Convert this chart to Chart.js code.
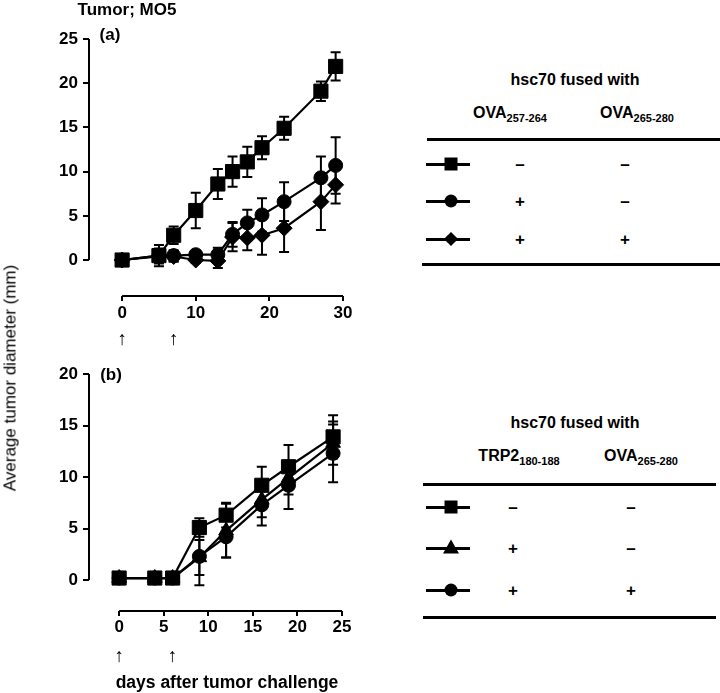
<!DOCTYPE html>
<html>
<head>
<meta charset="utf-8">
<script src="https://cdn.jsdelivr.net/npm/chart.js@4.4.0/dist/chart.umd.min.js"></script>
<style>
  body { margin: 0; background: #fff; }
  #page { position: relative; width: 720px; height: 693px; overflow: hidden; font-family: "Liberation Sans", Arial, sans-serif; color: #000; }
  canvas { position: absolute; left: 0; }
  .t { position: absolute; white-space: nowrap; line-height: 1; }
  .b { font-weight: bold; }
  .c { transform: translate(-50%, -50%); }
  .hr { position: absolute; height: 3px; background: #000; }
  .key { position: absolute; width: 44px; height: 2.5px; background: #000; }
  .mk { position: absolute; background: #000; transform: translate(-50%, -50%); }
  sub { font-size: 11px; vertical-align: -4px; }
</style>
</head>
<body>
<div id="page">
  <canvas id="chartA" width="360" height="360" style="top:0"></canvas>
  <canvas id="chartB" width="360" height="335" style="top:340px"></canvas>
  <div id="labels"></div>
</div>
<script>
// panel (a) data
const daysA = [0, 5, 7, 10, 13, 15, 17, 19, 22, 27, 29];
const squareA = [0, 0.5, 2.8, 5.6, 8.6, 10.0, 11.1, 12.7, 14.9, 19.1, 21.9];
const squareErrA = [0, 1.2, 1.0, 2.0, 1.7, 1.7, 1.7, 1.3, 1.3, 1.1, 1.6];
const circleA = [0, 0.5, 0.5, 0.6, 0.6, 2.9, 4.2, 5.1, 6.6, 9.3, 10.7];
const circleErrA = [0, 0.8, 0.6, 0.3, 0.8, 1.4, 1.5, 1.9, 2.2, 2.4, 3.2];
const diamondA = [0, 0.4, 0.4, 0, -0.1, 2.6, 2.5, 2.8, 3.6, 6.6, 8.5];
const diamondErrA = [0, 0.8, 0.6, 0.3, 0.8, 1.6, 1.4, 2.2, 2.7, 3.2, 2.1];
const xTicksA = [0, 10, 20, 30];
const yTicksA = [0, 5, 10, 15, 20, 25];
const arrowDaysA = [0, 7];

// panel (b) data
const daysB = [0, 4, 6, 9, 12, 16, 19, 24];
const squareB = [0.2, 0.2, 0.2, 5.1, 6.3, 9.2, 11.0, 13.9];
const squareErrB = [0, 0, 0, 0.9, 1.2, 1.8, 2.1, 2.1];
const triangleB = [0.2, 0.2, 0.2, 2.2, 4.8, 7.8, 9.9, 13.3];
const triangleErrB = [0, 0, 0, 1.7, 2.6, 1.7, 1.6, 2.1];
const circleB = [0.2, 0.2, 0.2, 2.3, 4.2, 7.3, 9.2, 12.3];
const circleErrB = [0, 0, 0, 2.8, 2.0, 2.0, 2.3, 2.8];
const xTicksB = [0, 5, 10, 15, 20, 25];
const yTicksB = [0, 5, 10, 15, 20];
const arrowDaysB = [0, 6];

const FONT = '"Liberation Sans", Arial, sans-serif';

// error bars go under the markers
const errorBars = {
  id: 'errorBars',
  beforeDatasetsDraw(chart) {
    const ctx = chart.ctx, xs = chart.scales.x, ys = chart.scales.y;
    ctx.save();
    ctx.strokeStyle = '#000';
    ctx.lineWidth = 2;
    chart.data.datasets.forEach(ds => {
      ds.data.forEach((p, i) => {
        const e = ds.errors[i];
        if (!e) return;
        const x = xs.getPixelForValue(p.x);
        const y1 = ys.getPixelForValue(p.y + e);
        const y2 = ys.getPixelForValue(p.y - e);
        ctx.beginPath();
        ctx.moveTo(x, y1); ctx.lineTo(x, y2);
        ctx.moveTo(x - 5, y1); ctx.lineTo(x + 5, y1);
        ctx.moveTo(x - 5, y2); ctx.lineTo(x + 5, y2);
        ctx.stroke();
      });
    });
    ctx.restore();
  }
};

// detached axis lines + the injection arrows
const axisLines = {
  id: 'axisLines',
  afterDraw(chart, args, o) {
    const ctx = chart.ctx, xs = chart.scales.x, ys = chart.scales.y, a = chart.chartArea;
    ctx.save();
    ctx.strokeStyle = '#000';
    ctx.lineWidth = 2;
    ctx.beginPath();
    ctx.moveTo(a.left, ys.getPixelForValue(o.yTicks[0]));
    ctx.lineTo(a.left, ys.getPixelForValue(o.yTicks[o.yTicks.length - 1]));
    ctx.moveTo(xs.getPixelForValue(o.xTicks[0]), a.bottom);
    ctx.lineTo(xs.getPixelForValue(o.xTicks[o.xTicks.length - 1]), a.bottom);
    ctx.stroke();
    ctx.fillStyle = '#000';
    ctx.font = '19px ' + FONT;
    ctx.textAlign = 'center';
    ctx.textBaseline = 'middle';
    o.arrows.forEach(d => ctx.fillText('\u2191', xs.getPixelForValue(d), a.bottom + o.arrowOffset));
    ctx.restore();
  }
};

function series(days, vals, errs, style, radius) {
  return {
    data: days.map((d, i) => ({ x: d, y: vals[i] })),
    errors: errs,
    borderColor: '#000',
    borderWidth: 2.2,
    pointStyle: style,
    pointRadius: radius,
    pointBackgroundColor: '#000',
    pointBorderColor: '#000',
    pointBorderWidth: 1,
    tension: 0,
    clip: false
  };
}

function makePanel(id, datasets, p) {
  return new Chart(document.getElementById(id), {
    type: 'line',
    data: { datasets: datasets },
    plugins: [errorBars, axisLines],
    options: {
      responsive: false,
      animation: false,
      events: [],
      layout: { padding: { top: p.top, right: p.right, left: 0, bottom: 0 } },
      plugins: {
        legend: { display: false },
        tooltip: { enabled: false },
        axisLines: { xTicks: p.xTicks, yTicks: p.yTicks, arrows: p.arrows, arrowOffset: p.arrowOffset }
      },
      scales: {
        x: {
          type: 'linear',
          min: p.xMin, max: p.xMax,
          afterBuildTicks: s => { s.ticks = p.xTicks.map(v => ({ value: v })); },
          afterFit: s => { s.height = p.xHeight; },
          border: { display: false },
          grid: { drawOnChartArea: false, drawTicks: true, tickLength: 5, color: '#000', lineWidth: 2 },
          ticks: { color: '#000', padding: p.xPad, maxRotation: 0, font: { family: FONT, size: 17, weight: 'bold' } }
        },
        y: {
          min: p.yMin, max: p.yMax,
          afterBuildTicks: s => { s.ticks = p.yTicks.map(v => ({ value: v })); },
          afterFit: s => { s.width = 89; },
          border: { display: false },
          grid: { drawOnChartArea: false, drawTicks: true, tickLength: 6, color: '#000', lineWidth: 2 },
          ticks: { color: '#000', padding: 5, font: { family: FONT, size: 17, weight: 'bold' } }
        }
      }
    }
  });
}

makePanel('chartA', [
  series(daysA, diamondA, diamondErrA, 'rectRot', 8),
  series(daysA, circleA, circleErrA, 'circle', 7),
  series(daysA, squareA, squareErrA, 'rect', 10)
], { top: 39, right: 17, xMin: -4.5, xMax: 30, yMin: -4.07, yMax: 25, xHeight: 64, xPad: 2,
     xTicks: xTicksA, yTicks: yTicksA, arrows: arrowDaysA, arrowOffset: 44 });

makePanel('chartB', [
  series(daysB, circleB, circleErrB, 'circle', 7),
  series(daysB, triangleB, triangleErrB, 'triangle', 8.5),
  series(daysB, squareB, squareErrB, 'rect', 10)
], { top: 34, right: 18, xMin: -3.38, xMax: 25, yMin: -3.0, yMax: 20, xHeight: 64, xPad: 1,
     xTicks: xTicksB, yTicks: yTicksB, arrows: arrowDaysB, arrowOffset: 46 });

// text and the two key tables
const labels = document.getElementById('labels');
function put(html, x, y, cls, extra) {
  const d = document.createElement('div');
  d.className = 't c ' + (cls || '');
  d.style.left = x + 'px';
  d.style.top = y + 'px';
  if (extra) d.style.cssText += extra;
  d.innerHTML = html;
  labels.appendChild(d);
  return d;
}
function rule(x1, x2, y) {
  const d = document.createElement('div');
  d.className = 'hr';
  d.style.left = x1 + 'px'; d.style.width = (x2 - x1) + 'px'; d.style.top = (y - 1.5) + 'px';
  labels.appendChild(d);
}
function keyMark(shape, x, y) {
  const l = document.createElement('div');
  l.className = 'key';
  l.style.left = (x - 25) + 'px'; l.style.top = (y - 1) + 'px';
  labels.appendChild(l);
  const m = document.createElement('div');
  m.className = 'mk';
  m.style.left = x + 'px'; m.style.top = y + 'px';
  if (shape === 'square') { m.style.width = '13px'; m.style.height = '13px'; }
  if (shape === 'circle') { m.style.width = '13px'; m.style.height = '13px'; m.style.borderRadius = '50%'; }
  if (shape === 'diamond') { m.style.width = '10px'; m.style.height = '10px'; m.style.transform = 'translate(-50%,-50%) rotate(45deg)'; }
  if (shape === 'triangle') {
    m.style.width = '0'; m.style.height = '0'; m.style.background = 'none';
    m.style.borderLeft = '8px solid transparent'; m.style.borderRight = '8px solid transparent';
    m.style.borderBottom = '14px solid #000'; m.style.transform = 'translate(-50%,-60%)';
  }
  labels.appendChild(m);
}

put('Tumor; MO5', 127, 9, 'b', 'font-size:17px');
put('(a)', 110, 34, 'b', 'font-size:17px');
put('(b)', 111, 374, 'b', 'font-size:17px');
put('Average tumor diameter (mm)', 10, 378, '', 'font-size:17px;transform:translate(-50%,-50%) rotate(-90deg)');
put('days after tumor challenge', 227, 683, 'b', 'font-size:17.5px');

// table (a)
const rowsA = [['square', '\u2013', '\u2013'], ['circle', '+', '\u2013'], ['diamond', '+', '+']];
put('hsc70 fused with', 575, 80, 'b', 'font-size:16px');
put('OVA<sub>257-264</sub>', 510, 114, 'b', 'font-size:16px');
put('OVA<sub>265-280</sub>', 637, 114, 'b', 'font-size:16px');
rule(427, 720, 139);
[164, 201, 239].forEach((y, i) => {
  keyMark(rowsA[i][0], 451, y);
  put(rowsA[i][1], 520, y, 'b', 'font-size:17px');
  put(rowsA[i][2], 625, y, 'b', 'font-size:17px');
});
rule(422, 720, 264);

// table (b)
const rowsB = [['square', '\u2013', '\u2013'], ['triangle', '+', '\u2013'], ['circle', '+', '+']];
put('hsc70 fused with', 575, 423, 'b', 'font-size:16px');
put('TRP2<sub>180-188</sub>', 519, 457, 'b', 'font-size:16px');
put('OVA<sub>265-280</sub>', 641, 457, 'b', 'font-size:16px');
rule(423, 716, 484);
[507, 548, 590].forEach((y, i) => {
  keyMark(rowsB[i][0], 451, y);
  put(rowsB[i][1], 513, y, 'b', 'font-size:17px');
  put(rowsB[i][2], 631, y, 'b', 'font-size:17px');
});
rule(423, 716, 617);
</script>
</body>
</html>
